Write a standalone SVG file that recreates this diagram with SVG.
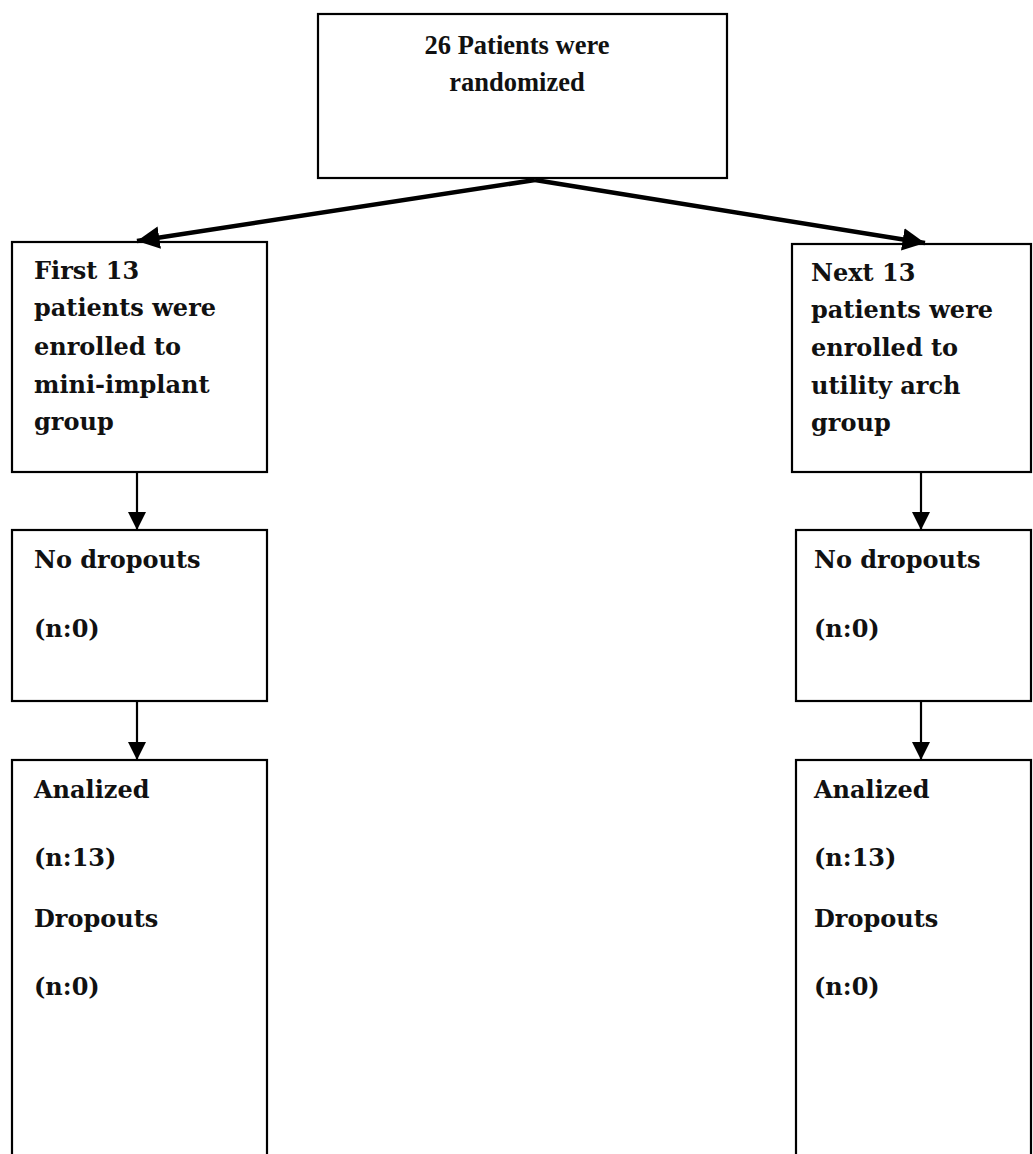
<svg xmlns="http://www.w3.org/2000/svg" width="1033" height="1154" viewBox="0 0 1033 1154">
<style>
.box{fill:#fff;stroke:#000;stroke-width:2.2}
.t{font-family:"DejaVu Serif","Liberation Serif",serif;font-weight:bold;font-size:24px;fill:#111}
.tt{font-family:"Liberation Serif",serif;font-weight:bold;font-size:26.5px;fill:#111;text-anchor:middle}
.c{stroke:#000;fill:none}
</style>
<defs>
<marker id="ah" viewBox="0 0 10 10" refX="10" refY="5" markerWidth="18" markerHeight="18" markerUnits="userSpaceOnUse" orient="auto">
<path d="M0,0 L10,5 L0,10 z" fill="#000"/>
</marker>
<marker id="ad" viewBox="0 0 10 10" refX="10" refY="5" markerWidth="5" markerHeight="5" orient="auto">
<path d="M0,0 L10,5 L0,10 z" fill="#000"/>
</marker>
</defs>
<rect width="1033" height="1154" fill="#fff"/>
<g id="n-top">
<rect class="box" x="318" y="14" width="409" height="164"/>
<text class="tt" x="517" y="54">26 Patients were</text>
<text class="tt" x="517" y="91">randomized</text>
</g>
<g id="n-left1">
<rect class="box" x="12" y="242" width="255" height="230"/>
<text class="t" x="34" y="279">First 13</text>
<text class="t" x="34" y="316">patients were</text>
<text class="t" x="34" y="355">enrolled to</text>
<text class="t" x="34" y="393">mini-implant</text>
<text class="t" x="34" y="430">group</text>
</g>
<g id="n-left2">
<rect class="box" x="12" y="530" width="255" height="171"/>
<text class="t" x="34" y="568">No dropouts</text>
<text class="t" x="34" y="637">(n:0)</text>
</g>
<g id="n-left3">
<rect class="box" x="12" y="760" width="255" height="420"/>
<text class="t" x="34" y="798">Analized</text>
<text class="t" x="34" y="866">(n:13)</text>
<text class="t" x="34" y="927">Dropouts</text>
<text class="t" x="34" y="995">(n:0)</text>
</g>
<g id="n-right1">
<rect class="box" x="792" y="244" width="239" height="228"/>
<text class="t" x="811" y="281">Next 13</text>
<text class="t" x="811" y="318">patients were</text>
<text class="t" x="811" y="356">enrolled to</text>
<text class="t" x="811" y="394">utility arch</text>
<text class="t" x="811" y="431">group</text>
</g>
<g id="n-right2">
<rect class="box" x="796" y="530" width="235" height="171"/>
<text class="t" x="814" y="568">No dropouts</text>
<text class="t" x="814" y="637">(n:0)</text>
</g>
<g id="n-right3">
<rect class="box" x="796" y="760" width="235" height="420"/>
<text class="t" x="814" y="798">Analized</text>
<text class="t" x="814" y="866">(n:13)</text>
<text class="t" x="814" y="927">Dropouts</text>
<text class="t" x="814" y="995">(n:0)</text>
</g>
<g id="connectors">
<path class="c" d="M535,180 L137,241" stroke-width="4.5" marker-end="url(#ad)"/>
<path class="c" d="M535,180 L925,243" stroke-width="4.5" marker-end="url(#ad)"/>
<path class="c" d="M137,472 L137,530" stroke-width="2.2" marker-end="url(#ah)"/>
<path class="c" d="M137,701 L137,760" stroke-width="2.2" marker-end="url(#ah)"/>
<path class="c" d="M921,472 L921,530" stroke-width="2.2" marker-end="url(#ah)"/>
<path class="c" d="M921,701 L921,760" stroke-width="2.2" marker-end="url(#ah)"/>
</g>
</svg>
